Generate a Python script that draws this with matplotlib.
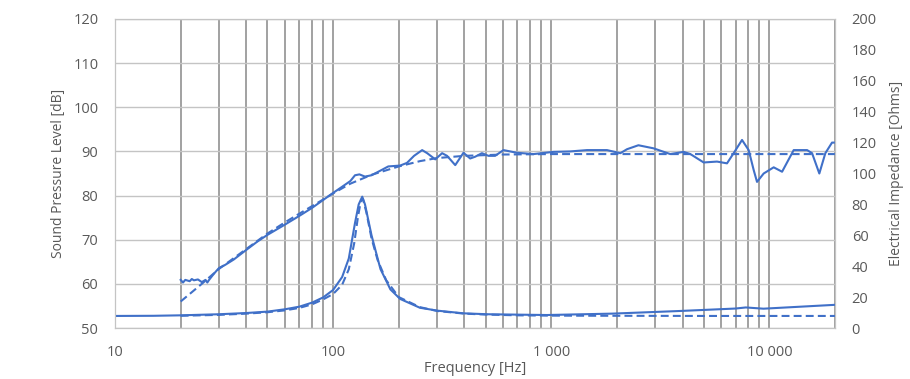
import matplotlib
matplotlib.use("Agg")
import matplotlib.pyplot as plt
from matplotlib.ticker import FixedLocator, FixedFormatter, NullFormatter, LogLocator

plt.rcParams['font.family'] = ['Open Sans', 'DejaVu Sans']

# measured SPL [dB]
spl_freq = [20, 20.5, 21, 22, 22.5, 23, 24, 25, 26, 26.5, 27, 28, 29, 30, 32, 35, 40, 45, 50,
            60, 70, 80, 90, 100, 110, 120, 126, 132, 140, 150, 164, 179, 203, 218, 235, 256,
            270, 294, 316, 333, 363, 396, 425, 448, 481, 516, 553, 604, 696, 830, 1025, 1222,
            1459, 1802, 2075, 2225, 2510, 2945, 3513, 4047, 4345, 5000, 5755, 6396, 6860, 7495,
            8040, 8475, 8780, 9420, 10470, 11440, 12930, 14900, 15700, 16950, 18060, 19380, 20000]
spl_meas = [60.9, 60.3, 60.9, 60.6, 61.1, 60.8, 61.0, 60.4, 60.9, 60.3, 60.9, 61.9, 62.8, 63.6,
            64.3, 65.5, 67.7, 69.6, 71.1, 73.4, 75.4, 77.2, 79.0, 80.6, 82.0, 83.3, 84.6, 84.8,
            84.3, 84.6, 85.6, 86.6, 86.8, 87.4, 89.0, 90.3, 89.6, 88.2, 89.6, 89.0, 86.9, 89.7,
            88.4, 88.8, 89.6, 89.0, 89.0, 90.3, 89.7, 89.4, 89.9, 90.0, 90.3, 90.3, 89.6, 90.5,
            91.4, 90.7, 89.4, 89.9, 89.4, 87.5, 87.7, 87.3, 89.6, 92.6, 90.3, 85.8, 83.1, 85.0,
            86.4, 85.4, 90.3, 90.3, 89.6, 85.0, 89.6, 92.0, 92.0]

# simulated SPL [dB]
sim_spl_freq = [20, 25, 30, 40, 50, 60, 70, 80, 90, 100, 120, 150, 200, 250, 300, 400, 600,
                1000, 20000]
spl_sim = [56.0, 60.0, 63.4, 67.9, 71.4, 73.9, 75.9, 77.6, 79.1, 80.5, 82.7, 84.7, 86.6, 87.8,
           88.5, 89.0, 89.3, 89.4, 89.4]

# measured impedance [Ohm]
imp_freq = [10, 15, 20, 30, 40, 50, 60, 70, 80, 90, 100, 110, 118, 126, 131, 136, 140, 150,
            160, 165, 176, 183, 203, 250, 302, 396, 510, 955, 1900, 3870, 7000, 7800, 9400, 20000]
imp_meas = [7.8, 7.9, 8.2, 8.9, 9.7, 10.6, 12.1, 13.8, 16.4, 19.8, 24.6, 33, 45, 68, 80, 85, 80,
            60, 45, 38, 30, 25, 18.8, 13.1, 11.2, 9.5, 8.9, 8.4, 9.3, 11.0, 12.6, 13.3, 12.5, 15.0]

# simulated impedance [Ohm]
sim_imp_freq = [20, 30, 40, 50, 60, 70, 80, 90, 100, 110, 118, 125, 130, 134, 137, 142, 150,
                160, 175, 200, 250, 300, 400, 500, 700, 1000, 2000, 5000, 20000]
imp_sim = [7.9, 8.5, 9.3, 10.2, 11.4, 13.0, 15.3, 18.5, 22.0, 28.0, 38.0, 55.0, 72.0, 82.0, 83.5,
           75.0, 58.0, 44.0, 31.0, 20.0, 13.5, 11.0, 9.3, 8.7, 8.2, 8.0, 7.9, 7.8, 7.8]

x_ticks = [10, 100, 1000, 10000]
x_labels = ['10', '100', '1 000', '10 000']

blue = '#4070C8'
txt = '#595959'

fig = plt.figure(figsize=(9.1, 3.79), dpi=100)
ax = fig.add_axes([115/910, 1-328/379, 720/910, 309/379])
ax2 = ax.twinx()

ax.set_xscale('log')
ax.set_xlim(10, 20000)
ax.set_ylim(50, 120)
ax.set_yticks(range(50, 121, 10))
ax2.set_ylim(0, 200)
ax2.set_yticks(range(0, 201, 20))

ax.xaxis.set_major_locator(FixedLocator(x_ticks))
ax.xaxis.set_major_formatter(FixedFormatter(x_labels))
ax.xaxis.set_minor_locator(LogLocator(base=10, subs=range(2, 10)))
ax.xaxis.set_minor_formatter(NullFormatter())

ax.grid(True, which='both', axis='x', color='#888888', lw=1.1)
ax.grid(True, which='major', axis='y', color='#c4c4c4', lw=1.0)
ax.set_axisbelow(True)

ax.plot(spl_freq, spl_meas, color=blue, lw=1.5)
ax.plot(sim_spl_freq, spl_sim, color=blue, lw=1.5, dashes=(3.8, 2))
ax2.plot(imp_freq, imp_meas, color=blue, lw=1.5)
ax2.plot(sim_imp_freq, imp_sim, color=blue, lw=1.5, dashes=(3.8, 2))

for a in (ax, ax2):
    for s in a.spines.values():
        s.set_color('#c4c4c4')
    a.tick_params(which='both', length=0, labelsize=10.5, labelcolor=txt)
ax.tick_params(axis='y', pad=12)
ax.tick_params(axis='x', pad=12)
ax2.tick_params(axis='y', pad=12)

ax.set_xlabel('Frequency [Hz]', fontsize=10.5, color=txt, labelpad=1)
ax.set_ylabel('Sound Pressure Level [dB]', fontsize=10, color=txt, labelpad=5)
ax2.set_ylabel('Electrical Impedance [Ohms]', fontsize=10, color=txt, labelpad=9)

fig.savefig('out.png', dpi=100)
